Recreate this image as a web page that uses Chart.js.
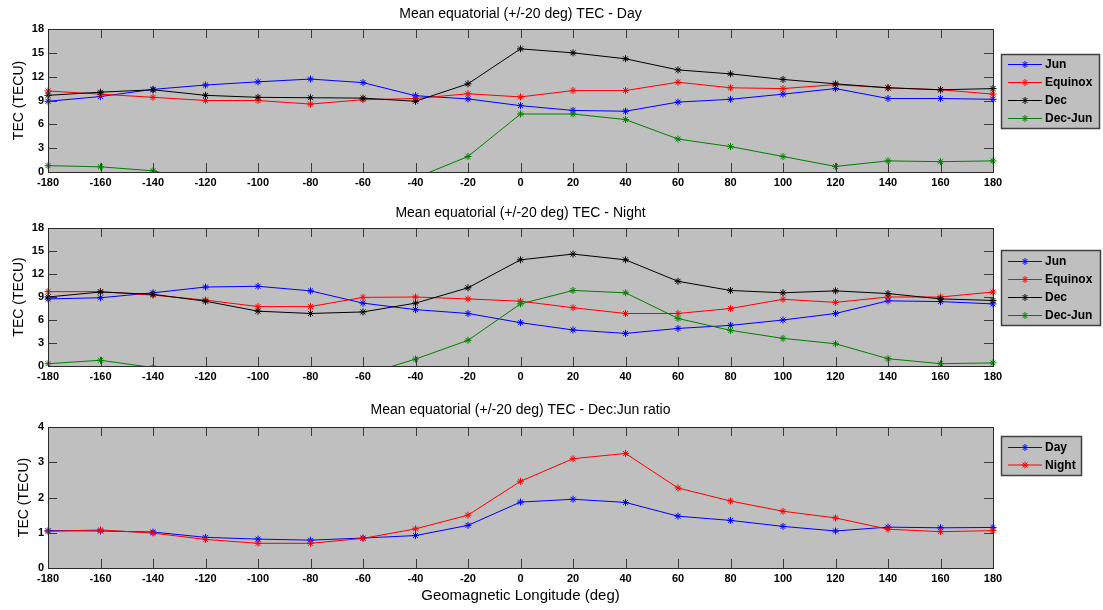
<!DOCTYPE html>
<html>
<head>
<meta charset="utf-8">
<script src="https://cdn.jsdelivr.net/npm/chart.js@4.4.1/dist/chart.umd.min.js"></script>
<style>
  html, body { margin: 0; padding: 0; background: #ffffff; }
  body { width: 1103px; height: 610px; position: relative; overflow: hidden; }
  canvas { position: absolute; left: 0; }
</style>
</head>
<body>
<canvas id="cDay" width="1103" height="195" style="top:0px"></canvas>
<canvas id="cNight" width="1103" height="195" style="top:195px"></canvas>
<canvas id="cRatio" width="1103" height="220" style="top:390px"></canvas>
<script>
// Geomagnetic longitude bins (deg)
const longitudes = [-180, -160, -140, -120, -100, -80, -60, -40, -20, 0, 20, 40, 60, 80, 100, 120, 140, 160, 180];

// Daytime mean equatorial TEC (TECU)
const dayJun     = [8.9, 9.5, 10.4, 10.95, 11.35, 11.7, 11.25, 9.6, 9.2, 8.35, 7.75, 7.65, 8.8, 9.15, 9.8, 10.5, 9.25, 9.25, 9.15];
const dayEquinox = [10.2, 9.8, 9.4, 9.0, 9.0, 8.55, 9.1, 9.25, 9.85, 9.45, 10.25, 10.25, 11.3, 10.6, 10.5, 11.0, 10.6, 10.35, 9.8];
const dayDec     = [9.65, 10.05, 10.35, 9.65, 9.4, 9.35, 9.3, 8.9, 11.1, 15.5, 15.0, 14.25, 12.85, 12.35, 11.65, 11.1, 10.6, 10.35, 10.5];
const dayDecJun  = [0.8, 0.65, 0.15, -1.3, -2.0, -2.35, -1.95, -0.75, 1.95, 7.3, 7.3, 6.6, 4.15, 3.2, 1.95, 0.7, 1.4, 1.3, 1.4];

// Nighttime mean equatorial TEC (TECU)
const nightJun     = [8.75, 8.9, 9.55, 10.3, 10.4, 9.8, 8.2, 7.35, 6.85, 5.65, 4.7, 4.25, 4.9, 5.3, 6.0, 6.85, 8.5, 8.4, 8.1];
const nightEquinox = [9.7, 9.7, 9.25, 8.6, 7.75, 7.75, 8.95, 9.0, 8.75, 8.45, 7.6, 6.85, 6.85, 7.5, 8.7, 8.3, 9.0, 9.0, 9.65];
const nightDec     = [9.0, 9.65, 9.35, 8.45, 7.15, 6.85, 7.05, 8.2, 10.2, 13.85, 14.6, 13.85, 11.05, 9.85, 9.55, 9.8, 9.45, 8.75, 8.55];
const nightDecJun  = [0.3, 0.75, -0.2, -1.85, -3.25, -2.95, -1.2, 0.9, 3.35, 8.1, 9.85, 9.55, 6.2, 4.65, 3.6, 2.9, 0.95, 0.3, 0.4];

// Dec:Jun ratio
const ratioDay   = [1.06, 1.05, 1.02, 0.87, 0.82, 0.79, 0.85, 0.92, 1.21, 1.87, 1.95, 1.86, 1.47, 1.35, 1.18, 1.05, 1.16, 1.14, 1.15];
const ratioNight = [1.04, 1.08, 0.99, 0.81, 0.70, 0.70, 0.84, 1.11, 1.5, 2.46, 3.1, 3.25, 2.27, 1.9, 1.61, 1.42, 1.1, 1.03, 1.06];

// Axis tick values
const xTicks = { min: -180, max: 180, step: 20 };
const tecTicks = { min: 0, max: 18, step: 3 };
const ratioTicks = { min: 0, max: 4, step: 1 };

const FONT = "'Liberation Sans', Arial, Helvetica, sans-serif";
const AXES_BG = '#bfbfbf';
const FRAME = '#2a2a2a';

function series(label, values, color, idx, count) {
  return {
    label: label,
    data: longitudes.map((x, i) => ({ x: x, y: values[i] })),
    borderColor: color,
    backgroundColor: color,
    borderWidth: 1,
    pointStyle: 'star',
    pointRadius: 3.5,
    pointBorderWidth: 1,
    pointBorderColor: color,
    fill: false,
    tension: 0,
    order: count - idx,
    clip: { left: 6, right: 6, top: 6, bottom: 0 }
  };
}

// MATLAB-style axes: grey plot box, inward ticks on all sides, titles and boxed legend
const axesFrame = {
  id: 'axesFrame',
  beforeDraw(chart, args, opts) {
    const a = chart.chartArea;
    const ctx = chart.ctx;
    ctx.save();
    ctx.fillStyle = AXES_BG;
    ctx.fillRect(a.left, a.top, a.right - a.left, a.bottom - a.top);
    ctx.restore();
  },
  afterDatasetsDraw(chart, args, opts) {
    const a = chart.chartArea;
    const ctx = chart.ctx;
    const xs = chart.scales.x, ys = chart.scales.y;
    const L = 9;
    ctx.save();
    ctx.strokeStyle = '#3a3a3a';
    ctx.lineWidth = 1;
    ctx.beginPath();
    xs.ticks.forEach(t => {
      const px = Math.round(xs.getPixelForValue(t.value)) + 0.5;
      if (px <= a.left + 1 || px >= a.right - 1) return;
      ctx.moveTo(px, a.bottom); ctx.lineTo(px, a.bottom - L);
      ctx.moveTo(px, a.top); ctx.lineTo(px, a.top + L);
    });
    ys.ticks.forEach(t => {
      const py = Math.round(ys.getPixelForValue(t.value)) + 0.5;
      if (py <= a.top + 1 || py >= a.bottom - 1) return;
      ctx.moveTo(a.left, py); ctx.lineTo(a.left + L, py);
      ctx.moveTo(a.right, py); ctx.lineTo(a.right - L, py);
    });
    ctx.stroke();

    // plot box
    ctx.strokeStyle = FRAME;
    ctx.strokeRect(Math.round(a.left) + 0.5, Math.round(a.top) + 0.5,
                   Math.round(a.right - a.left), Math.round(a.bottom - a.top));

    const cx = (a.left + a.right) / 2;
    ctx.fillStyle = '#000';
    ctx.textAlign = 'center';
    ctx.textBaseline = 'middle';

    // panel title
    ctx.font = '14px ' + FONT;
    ctx.fillText(opts.title, cx, opts.titleY);

    // y axis title
    ctx.save();
    ctx.translate(opts.yLabelX, (a.top + a.bottom) / 2);
    ctx.rotate(-Math.PI / 2);
    ctx.font = '14px ' + FONT;
    ctx.fillText('TEC (TECU)', 0, 0);
    ctx.restore();

    // x axis title
    if (opts.xLabel) {
      ctx.font = '15px ' + FONT;
      ctx.fillText(opts.xLabel, cx, opts.xLabelY);
    }

    // legend box
    const lg = opts.legend;
    ctx.fillStyle = AXES_BG;
    ctx.fillRect(lg.x, lg.y, lg.w, lg.h);
    ctx.strokeStyle = '#404040';
    ctx.lineWidth = 1.5;
    ctx.strokeRect(lg.x + 0.5, lg.y + 0.5, lg.w, lg.h);
    ctx.font = 'bold 12px ' + FONT;
    ctx.textAlign = 'left';
    chart.data.datasets.forEach((ds, i) => {
      const ry = lg.y + lg.first + i * lg.gap;
      ctx.strokeStyle = ds.borderColor;
      ctx.lineWidth = 1;
      ctx.beginPath();
      ctx.moveTo(lg.x + 7, ry + 0.5);
      ctx.lineTo(lg.x + 41, ry + 0.5);
      ctx.stroke();
      Chart.helpers.drawPoint(ctx, {
        pointStyle: 'star', radius: 3.5, rotation: 0, borderWidth: 1
      }, lg.x + 24, ry + 0.5);
      ctx.fillStyle = '#000';
      ctx.fillText(ds.label, lg.x + 44, ry + 1);
    });
    ctx.restore();
  }
};

function makeChart(id, datasets, yT, frame, topPad, xHeight) {
  return new Chart(document.getElementById(id), {
    type: 'line',
    data: { datasets: datasets },
    plugins: [axesFrame],
    options: {
      responsive: false,
      animation: false,
      devicePixelRatio: 1,
      events: [],
      layout: { padding: { left: 0, right: 110, top: topPad, bottom: 0 } },
      plugins: {
        legend: { display: false },
        tooltip: { enabled: false },
        title: { display: false },
        axesFrame: frame
      },
      scales: {
        x: {
          type: 'linear',
          min: xTicks.min, max: xTicks.max,
          grid: { display: false, drawTicks: false },
          border: { display: false },
          afterFit: s => { s.height = xHeight; },
          ticks: {
            stepSize: xTicks.step,
            autoSkip: false,
            maxRotation: 0,
            padding: 4,
            color: '#000',
            font: { family: FONT, size: 11, weight: 'bold' }
          }
        },
        y: {
          min: yT.min, max: yT.max,
          grid: { display: false, drawTicks: false },
          border: { display: false },
          afterFit: s => { s.width = 48; },
          ticks: {
            stepSize: yT.step,
            padding: 4,
            color: '#000',
            font: { family: FONT, size: 11, weight: 'bold' }
          }
        }
      }
    }
  });
}

const seasonLabels = ['Jun', 'Equinox', 'Dec', 'Dec-Jun'];
const seasonColors = ['#0000ff', '#ff0000', '#000000', '#008000'];

makeChart('cDay',
  [dayJun, dayEquinox, dayDec, dayDecJun].map((v, i) => series(seasonLabels[i], v, seasonColors[i], i, 4)),
  tecTicks,
  {
    title: 'Mean equatorial (+/-20 deg) TEC - Day', titleY: 14, yLabelX: 19,
    legend: { x: 1001, y: 54, w: 98, h: 74, first: 10, gap: 18 }
  },
  29, 23);

makeChart('cNight',
  [nightJun, nightEquinox, nightDec, nightDecJun].map((v, i) => series(seasonLabels[i], v, seasonColors[i], i, 4)),
  tecTicks,
  {
    title: 'Mean equatorial (+/-20 deg) TEC - Night', titleY: 18, yLabelX: 19,
    legend: { x: 1001, y: 55, w: 99, h: 75, first: 11, gap: 18 }
  },
  33, 24);

makeChart('cRatio',
  [ratioDay, ratioNight].map((v, i) => series(['Day', 'Night'][i], v, ['#0000ff', '#ff0000'][i], i, 2)),
  ratioTicks,
  {
    title: 'Mean equatorial (+/-20 deg) TEC - Dec:Jun ratio', titleY: 20, yLabelX: 24,
    xLabel: 'Geomagnetic Longitude (deg)', xLabelY: 206,
    legend: { x: 1001, y: 46, w: 80, h: 39, first: 11, gap: 17.5 }
  },
  37, 42);
</script>
</body>
</html>
